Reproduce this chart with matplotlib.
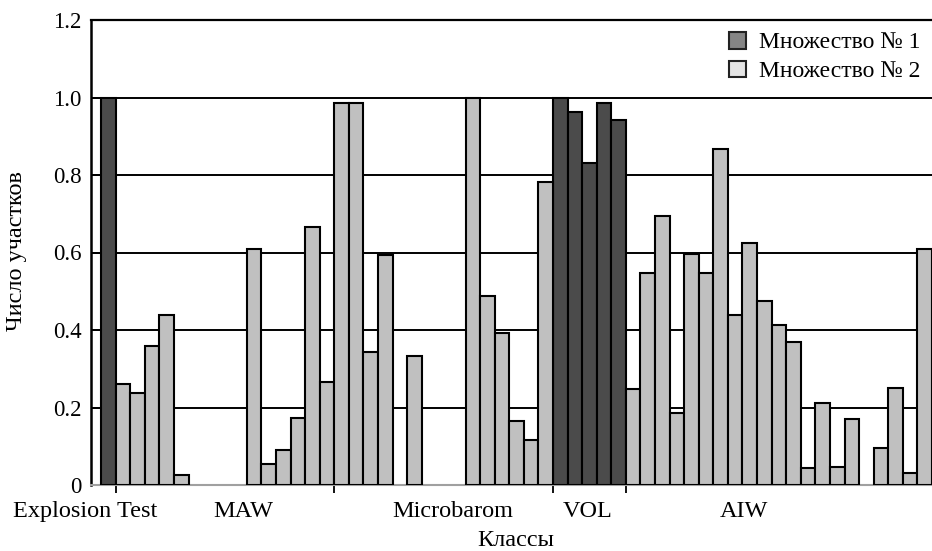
import matplotlib
matplotlib.use("Agg")
import matplotlib.pyplot as plt
from matplotlib.patches import Patch
from matplotlib.transforms import blended_transform_factory
import numpy as np

# ---- data ----
# one value per slot along the x axis (None = empty slot)
values = [
    1.0,
    0.26, 0.238, 0.36, 0.439, 0.026,
    None, None, None, None,
    0.608, 0.053, 0.090, 0.174, 0.667, 0.265, 0.985, 0.985, 0.344, 0.594,
    None,
    0.333,
    None, None, None,
    1.0, 0.488, 0.391, 0.165, 0.116, 0.783,
    1.0, 0.963, 0.830, 0.985, 0.942,
    0.248, 0.546, 0.694, 0.185, 0.596, 0.546, 0.867, 0.44, 0.624, 0.476,
    0.413, 0.37, 0.043, 0.212, 0.047, 0.17,
    None,
    0.095, 0.25, 0.032, 0.608,
]
# which set each slot belongs to (1 or 2)
series = ([1] + [2] * 5 + [2] * 4 + [2] * 10 + [2] + [2] + [2] * 3 + [2] * 6
          + [1] * 5 + [2] * 16 + [2] + [2] * 4)
series_names = ["Множество № 1", "Множество № 2"]
categories = ["Explosion Test", "MAW", "Microbarom", "VOL", "AIW"]
category_bounds = [0.5, 15.5, 30.5, 35.5]          # tick marks between classes
category_label_x = [-1.6, 9.25, 23.6, 32.86, 43.6]  # label centres
y_ticks = [0, 0.2, 0.4, 0.6, 0.8, 1.0, 1.2]
y_tick_labels = ["0", "0.2", "0.4", "0.6", "0.8", "1.0", "1.2"]
x_title = "Классы"
y_title = "Число участков"

bar_colors = {1: "#4b4b4b", 2: "#c0c0c0"}
legend_colors = {1: "#858585", 2: "#e4e4e4"}

plt.rcParams["font.family"] = ["Liberation Serif", "DejaVu Serif"]

fig = plt.figure(figsize=(9.32, 5.51), dpi=100)
ax = fig.add_axes([90.7 / 932, 1 - 485 / 551, 1 - 90.7 / 932, (485 - 20) / 551])

for s in (1, 2):
    xs = [i for i, (v, ser) in enumerate(zip(values, series)) if v is not None and ser == s]
    hs = [values[i] for i in xs]
    ax.bar(xs, hs, width=1.0, color=bar_colors[s], edgecolor="black",
           linewidth=1.5, zorder=3)

ax.set_xlim(-1.21, len(values) - 0.5)
ax.set_ylim(0, 1.2)
ax.set_yticks(y_ticks)
ax.set_yticklabels(y_tick_labels, fontsize=16.5)
ax.yaxis.grid(True, color="black", linewidth=1.4, zorder=0)
ax.set_axisbelow(True)
ax.tick_params(axis="y", direction="in", length=6.5, width=1.3, pad=6.5)

ax.set_xticks(category_bounds)
ax.set_xticklabels([])
ax.tick_params(axis="x", direction="out", length=5.5, width=1.3)

trans = blended_transform_factory(ax.transData, ax.transAxes)
for lx, lab in zip(category_label_x, categories):
    ax.text(lx, -0.057, lab, transform=trans, ha="center", va="center",
            fontsize=17.5, clip_on=False)

ax.spines["right"].set_visible(False)
ax.spines["top"].set_linewidth(1.6)
ax.spines["left"].set_linewidth(1.8)
ax.spines["bottom"].set_color("#a0a0a0")
ax.spines["bottom"].set_linewidth(1.5)

ax.set_xlabel(x_title, fontsize=17.5)
ax.xaxis.set_label_coords(0.505, -0.097)
ax.set_ylabel(y_title, fontsize=17.5)
ax.yaxis.set_label_coords(-0.0757, 0.503)

handles = [Patch(facecolor=legend_colors[s], edgecolor="#222222", linewidth=1.5,
                 label=series_names[s - 1]) for s in (1, 2)]
ax.legend(handles=handles, loc="upper right", bbox_to_anchor=(1.0, 1.0),
          frameon=False, fontsize=17, handlelength=0.72, handleheight=0.72,
          handletextpad=0.55, labelspacing=0.3, borderaxespad=0.1)

fig.savefig("out.png", dpi=100)
